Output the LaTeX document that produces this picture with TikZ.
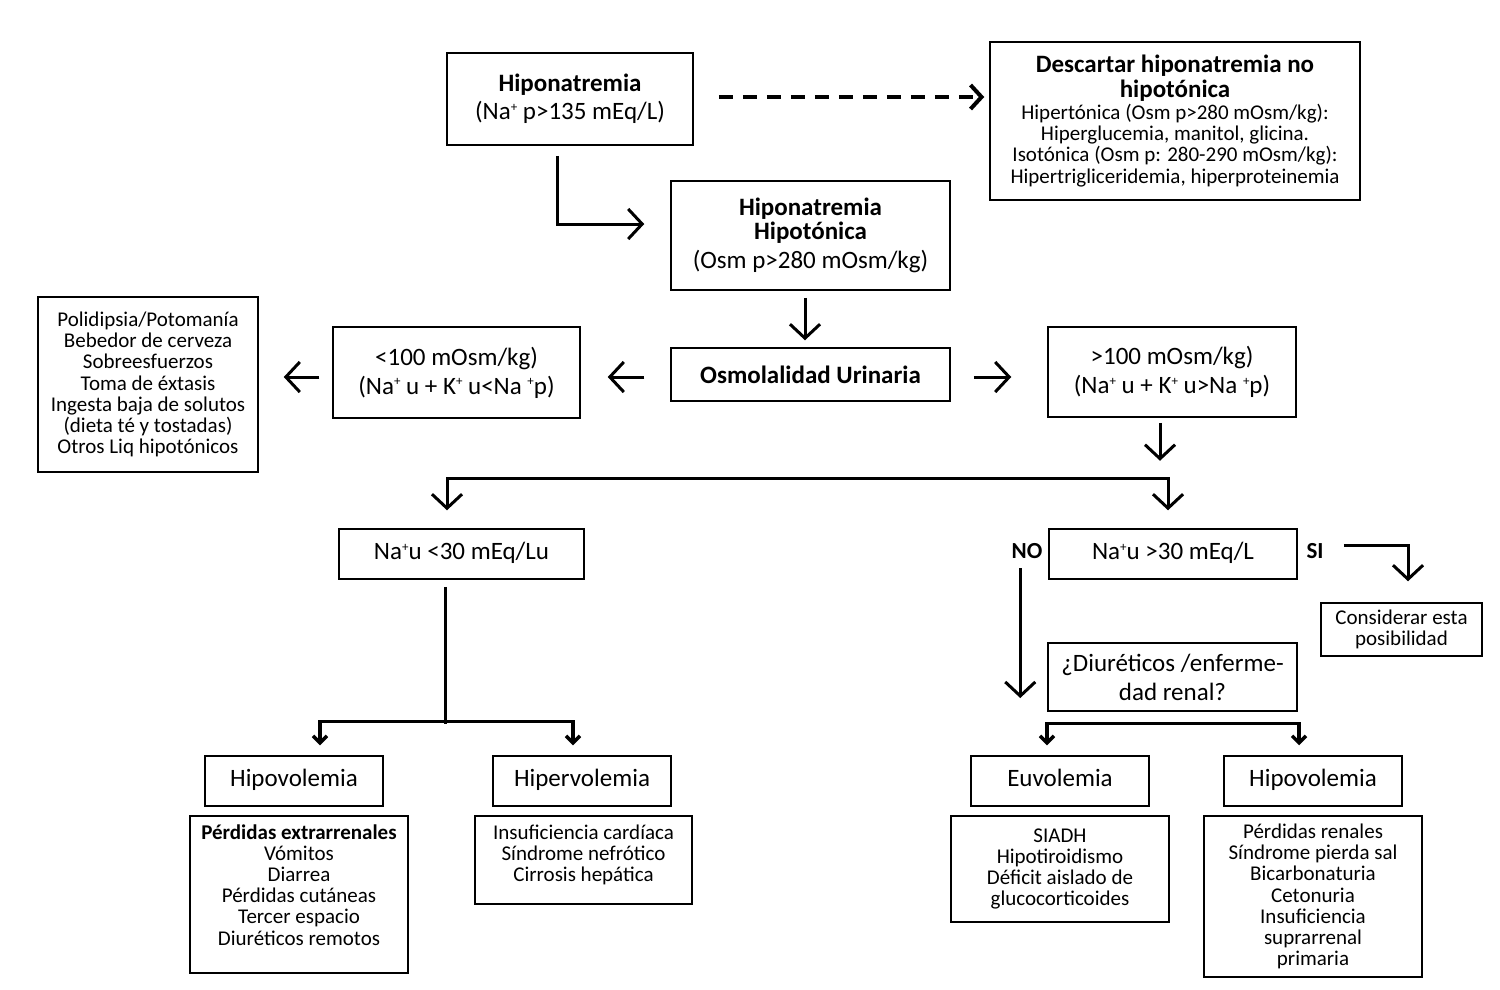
\documentclass[tikz,border=0pt]{standalone}
\usepackage{fontspec}
\setmainfont{Carlito}
\usetikzlibrary{arrows.meta}
\newcommand\plusup{\raisebox{8.5pt}{\fontsize{13}{13}\selectfont +}}
\begin{document}
\begin{tikzpicture}[x=1pt,y=1pt,
  box/.style={draw, line width=1.5pt, align=center, inner sep=0pt, font=\fontsize{25}{28}\selectfont},
  sbox/.style={box, font=\fontsize{21}{21.2}\selectfont},
  frame/.style={draw, line width=1.5pt, inner sep=0pt},
  stxt/.style={align=center, inner sep=0pt, font=\fontsize{21}{21.2}\selectfont},
  lab/.style={inner sep=0pt, font=\fontsize{23}{24}\selectfont\bfseries},
  bigarr/.style={line width=3pt, -{Straight Barb[length=14pt,width=30pt]}},
  dasharr/.style={line width=4pt, dash pattern=on 14pt off 10pt, -{Straight Barb[length=11pt,width=24pt]}},
  thk/.style={line width=3pt},
  twoarr/.style={line width=3.5pt, {Straight Barb[length=7pt,width=14pt]}-{Straight Barb[length=7pt,width=14pt]}},
  twobig/.style={line width=3pt, {Straight Barb[length=14pt,width=30pt]}-{Straight Barb[length=14pt,width=30pt]}}
]
\useasboundingbox (0,0) rectangle (1500,-989);

\node[box, minimum width=246, minimum height=92] (n1) at (570,-99)
  {{\bfseries Hiponatremia}\\(Na\plusup\ p>135 mEq/L)};
\node[sbox, minimum width=370, minimum height=158] (n2) at (1175,-121)
  {{\fontsize{25}{24}\selectfont\bfseries Descartar hiponatremia no}\\[2pt]
   {\fontsize{25}{24}\selectfont\bfseries hipotónica}\\[1pt]
   Hipertónica (Osm p>280 mOsm/kg):\\
   Hiperglucemia, manitol, glicina.\\
   Isotónica (Osm p: 280-290 mOsm/kg):\\
   Hipertrigliceridemia, hiperproteinemia};
\node[box, minimum width=279, minimum height=109] (n3) at (810.5,-235.5)
  {{\bfseries Hiponatremia}\\[-4pt]{\bfseries Hipotónica}\\[1pt](Osm p>280 mOsm/kg)};
\node[box, minimum width=279, minimum height=53] (n4) at (810.5,-374.5)
  {{\bfseries Osmolalidad Urinaria}};
\node[box, minimum width=247, minimum height=91] (n5) at (456.5,-372.5)
  {<100 mOsm/kg)\\[1pt](Na\plusup\ u + K\plusup\ u<Na \plusup p)};
\node[sbox, minimum width=220, minimum height=175] (n6) at (148,-384.5)
  {Polidipsia/Potomanía\\Bebedor de cerveza\\Sobreesfuerzos\\Toma de éxtasis\\Ingesta baja de solutos\\(dieta té y tostadas)\\Otros Liq hipotónicos};
\node[box, minimum width=248, minimum height=90] (n7) at (1172,-372)
  {>100 mOsm/kg)\\[1pt](Na\plusup\ u + K\plusup\ u>Na \plusup p)};
\node[box, minimum width=245, minimum height=50] (n8) at (461.5,-554)
  {\strut Na\plusup u <30 mEq/Lu};
\node[box, minimum width=248, minimum height=50] (n9) at (1173,-554)
  {\strut Na\plusup u >30 mEq/L};
\node[lab] (no) at (1027,-551) {NO};
\node[lab] (si) at (1315,-551) {SI};
\node[sbox, minimum width=161, minimum height=53] (n10) at (1401.5,-629.5)
  {Considerar esta\\posibilidad};
\node[box, minimum width=249, minimum height=68] (n11) at (1172.5,-677)
  {¿Diuréticos /enferme-\\[1pt]dad renal?};
\node[box, minimum width=178, minimum height=50] (n12) at (294,-781) {\strut Hipovolemia};
\node[box, minimum width=178, minimum height=50] (n13) at (582,-781) {\strut Hipervolemia};
\node[frame, minimum width=218, minimum height=157] (n14) at (299,-894.5) {};
\node[stxt, anchor=north] (t14) at ([yshift=-9pt]n14.north)
  {{\bfseries Pérdidas extrarrenales}\\Vómitos\\Diarrea\\Pérdidas cutáneas\\Tercer espacio\\Diuréticos remotos};
\node[frame, minimum width=217, minimum height=88] (n15) at (583.5,-860) {};
\node[stxt, anchor=north] (t15) at ([yshift=-9pt]n15.north)
  {Insuficiencia cardíaca\\Síndrome nefrótico\\Cirrosis hepática};
\node[box, minimum width=178, minimum height=50] (n16) at (1060,-781) {\strut Euvolemia};
\node[box, minimum width=178, minimum height=50] (n17) at (1313,-781) {\strut Hipovolemia};
\node[sbox, minimum width=218, minimum height=106] (n18) at (1060,-869)
  {SIADH\\Hipotiroidismo\\Déficit aislado de\\glucocorticoides};
\node[sbox, minimum width=218, minimum height=161] (n19) at (1313,-896.5)
  {Pérdidas renales\\Síndrome pierda sal\\Bicarbonaturia\\Cetonuria\\Insuficiencia\\suprarrenal\\primaria};

% connectors
\draw[dasharr] ([xshift=25pt,yshift=2pt]n1.east) -- ([xshift=-5pt,yshift=2pt]n1.east -| n2.west);
\draw[bigarr] ([xshift=-13pt,yshift=-10pt]n1.south) |- ([xshift=-26pt,yshift=11.5pt]n3.west);
\draw[bigarr] ([xshift=-5.5pt,yshift=-7pt]n3.south) -- ([xshift=-5.5pt,yshift=7pt]n4.north);
\draw[bigarr] ([xshift=-26pt,yshift=-2.5pt]n4.west) -- ([xshift=27pt,yshift=-2.5pt]n4.west -| n5.east);
\draw[bigarr] ([xshift=-13pt,yshift=-4.5pt]n5.west) -- ([xshift=25pt,yshift=-4.5pt]n5.west -| n6.east);
\draw[bigarr] ([xshift=23pt,yshift=-2.5pt]n4.east) -- ([xshift=-36pt,yshift=-2.5pt]n4.east -| n7.west);
\draw[bigarr] ([xshift=-12pt,yshift=-5pt]n7.south) -- ([xshift=-12pt,yshift=-43pt]n7.south);
\draw[twobig] ([xshift=-14.5pt,yshift=18pt]n8.north) -- ([xshift=-14.5pt,yshift=50pt]n8.north)
  -- ([xshift=-5pt,yshift=50pt]n9.north) -- ([xshift=-5pt,yshift=18pt]n9.north);
\draw[bigarr] ([xshift=46pt,yshift=9pt]n9.east) -| ([xshift=6.5pt,yshift=21pt]n10.north);
\draw[bigarr] ([xshift=-28pt,yshift=-14pt]n9.west) -- ([xshift=-28pt,yshift=-144pt]n9.west);
\draw[thk] ([xshift=-16.5pt,yshift=-7pt]n8.south) -- ([xshift=-16.5pt,yshift=-144pt]n8.south);
\draw[twoarr] ([xshift=26pt,yshift=10pt]n12.north) -- ([xshift=26pt,yshift=34pt]n12.north)
  -- ([xshift=-9pt,yshift=34pt]n13.north) -- ([xshift=-9pt,yshift=10pt]n13.north);
\draw[twoarr] ([xshift=-13pt,yshift=10pt]n16.north) -- ([xshift=-13pt,yshift=32pt]n16.north)
  -- ([xshift=-14pt,yshift=32pt]n17.north) -- ([xshift=-14pt,yshift=10pt]n17.north);
\end{tikzpicture}
\end{document}
